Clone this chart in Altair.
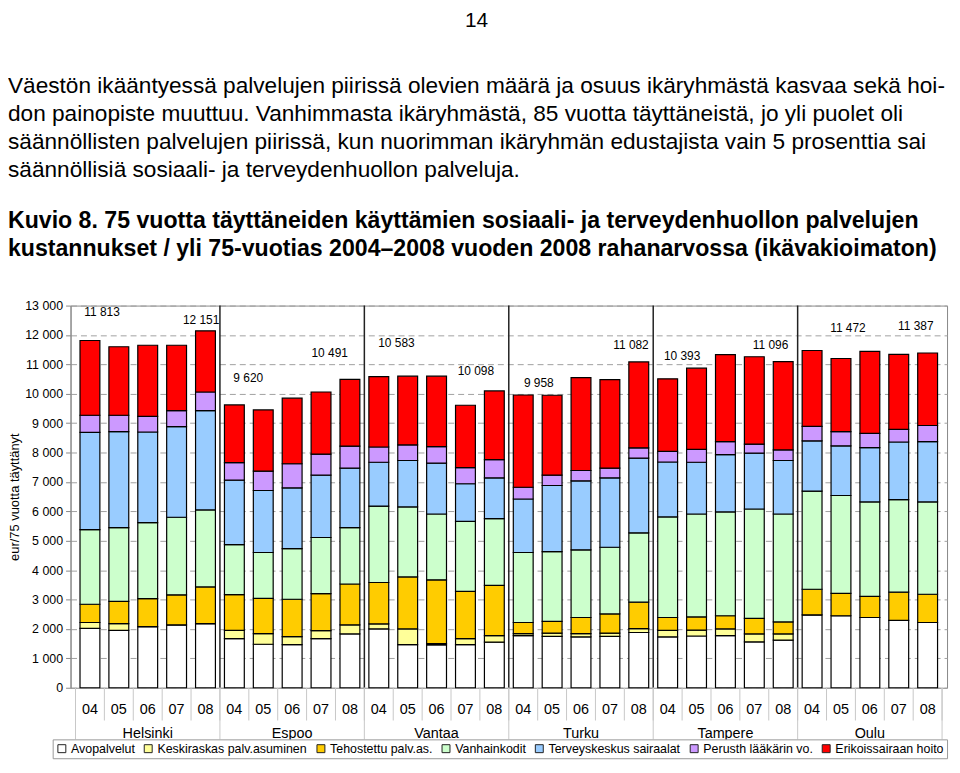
import altair as alt
import pandas as pd

# ---------------- data ----------------
cities = ["Helsinki", "Espoo", "Vantaa", "Turku", "Tampere", "Oulu"]
years = ["04", "05", "06", "07", "08"]
series = ["Avopalvelut", "Keskiraskas palv.asuminen", "Tehostettu palv.as.",
          "Vanhainkodit", "Terveyskeskus sairaalat", "Perusth lääkärin vo.",
          "Erikoissairaan hoito"]
colors = ["#FFFFFF", "#FFFF99", "#FFCC00", "#CCFFCC", "#99CCFF", "#CC99FF", "#FF0000"]

avopalvelut = [2020, 1950, 2080, 2140, 2180, 1670, 1480, 1470, 1670, 1830,
               2000, 1470, 1460, 1470, 1550, 1770, 1750, 1730, 1750, 1880,
               1730, 1760, 1770, 1560, 1620, 2480, 2450, 2390, 2290, 2220]
keskiraskas = [200, 230, 0, 0, 0, 280, 360, 270, 270, 310,
               170, 530, 40, 200, 220, 70, 110, 110, 110, 130,
               220, 200, 230, 270, 210, 0, 0, 0, 0, 0]
tehostettu = [620, 760, 950, 1020, 1250, 1220, 1200, 1270, 1260, 1390,
              1410, 1770, 2170, 1610, 1710, 380, 400, 550, 650, 900,
              440, 450, 450, 530, 410, 870, 760, 720, 960, 960]
vanhainkodit = [2540, 2510, 2590, 2640, 2620, 1700, 1560, 1720, 1910, 1920,
                2600, 2380, 2240, 2380, 2270, 2380, 2370, 2300, 2270, 2360,
                3420, 3500, 3530, 3720, 3670, 3340, 3330, 3210, 3150, 3140]
terveyskeskus = [3310, 3260, 3080, 3080, 3380, 2190, 2110, 2070, 2120, 2020,
                 1490, 1580, 1730, 1280, 1390, 1820, 2250, 2350, 2360, 2540,
                 1870, 1760, 1950, 1900, 1820, 1710, 1690, 1850, 1960, 2050]
perusth = [580, 560, 530, 550, 630, 600, 660, 820, 720, 750,
           520, 530, 560, 550, 620, 400, 350, 350, 330, 350,
           360, 440, 440, 310, 360, 490, 480, 480, 430, 550]
erikoissairaan = [2543, 2330, 2420, 2220, 2081, 1960, 2080, 2230, 2110, 2271,
                  2393, 2340, 2400, 2120, 2338, 3138, 2720, 3160, 3010, 2922,
                  2470, 2760, 2960, 2970, 3006, 2582, 2490, 2790, 2550, 2467]

# data labels (total per 75+ resident) and where they sit in the picture
label_value = [11813, 12151, 9620, 10491, 10583, 10098, 9958, 11082, 10393, 11096, 11472, 11387]
label_at_bar = [0.42, 3.85, 5.48, 8.30, 10.61, 13.36, 15.54, 18.73, 20.50, 23.56, 26.24, 28.59]
label_at_level = [12790, 12520, 10520, 11400, 11710, 10760, 10350, 11670, 11300, 11670, 12220, 12320]

y_ticks = [0, 1000, 2000, 3000, 4000, 5000, 6000, 7000, 8000, 9000, 10000, 11000, 12000, 13000]

page_number = "14"
paragraph = [
    "Väestön ikääntyessä palvelujen piirissä olevien määrä ja osuus ikäryhmästä kasvaa sekä hoi-",
    "don painopiste muuttuu. Vanhimmasta ikäryhmästä, 85 vuotta täyttäneistä, jo yli puolet oli",
    "säännöllisten palvelujen piirissä, kun nuorimman ikäryhmän edustajista vain 5 prosenttia sai",
    "säännöllisiä sosiaali- ja terveydenhuollon palveluja.",
]
figure_title = [
    "Kuvio 8. 75 vuotta täyttäneiden käyttämien sosiaali- ja terveydenhuollon palvelujen",
    "kustannukset / yli 75-vuotias 2004–2008 vuoden 2008 rahanarvossa (ikävakioimaton)",
]
y_title = "eur/75 vuotta täyttänyt"

# ---------------- tables ----------------
values = [avopalvelut, keskiraskas, tehostettu, vanhainkodit, terveyskeskus, perusth, erikoissairaan]
rows = []
bars_meta = []
i = 0
for c in cities:
    for yv in years:
        bars_meta.append({"idx": i, "year": yv, "city": c})
        for k, s in enumerate(series):
            rows.append({"idx": i, "series": s, "k": k, "value": values[k][i]})
        i += 1
df = pd.DataFrame(rows)
meta = pd.DataFrame(bars_meta)
nb = len(meta)
ny = len(years)

lab = pd.DataFrame({"idx": label_at_bar, "value": label_at_level,
                    "t": [f"{v:,}".replace(",", " ") for v in label_value]})
city_df = pd.DataFrame({"idx": [ny * j + (ny - 1) / 2 for j in range(len(cities))], "city": cities})
year_div = pd.DataFrame({"idx": [j - 0.5 for j in range(nb + 1)]})
city_div = pd.DataFrame({"idx": [ny * j - 0.5 for j in range(len(cities) + 1)]})
sep_df = pd.DataFrame({"idx": [ny * j - 0.5 for j in range(1, len(cities))]})

W, H = 883, 385
xscale = alt.Scale(domain=[-0.5, nb - 0.5], nice=False, zero=False)
X = alt.X("idx:Q", scale=xscale, axis=None)

yscale = alt.Scale(domain=[0, 13000], nice=False)
yaxis = alt.Axis(values=y_ticks, title=y_title, labelOverlap=False,
                 labelExpr="replace(format(datum.value, ','), ',', ' ')",
                 grid=True, gridDash=[6, 4], gridColor="#a0a0a0", gridWidth=1,
                 domainColor="#888888", tickColor="#888888", tickSize=5,
                 labelFontSize=12.5, labelColor="#000000", labelPadding=3,
                 titleFontSize=13, titleFontWeight="normal", titleColor="#000000",
                 titlePadding=3)

bars = alt.Chart(df).mark_bar(width=20, stroke="#000000", strokeWidth=1.2, orient="vertical").encode(
    x=X,
    y=alt.Y("value:Q", stack="zero", scale=yscale, axis=yaxis),
    color=alt.Color("series:N", scale=alt.Scale(domain=series, range=colors),
                    legend=alt.Legend(title=None, orient="none", legendX=-18, legendY=437,
                                      direction="horizontal", columns=7,
                                      symbolType="square", symbolSize=64,
                                      symbolStrokeColor="#222222", symbolStrokeWidth=1,
                                      labelFontSize=12.5, labelColor="#000000", labelLimit=0,
                                      labelOffset=3, columnPadding=7,
                                      strokeColor="#999999", fillColor="#ffffff", padding=3)),
    order=alt.Order("k:Q", sort="ascending"),
)

seps = alt.Chart(sep_df).mark_rule(color="#222222", strokeWidth=1.5).encode(
    x=X, y=alt.value(0), y2=alt.value(H))

ydivs = alt.Chart(year_div).mark_rule(color="#c8c8c8", strokeWidth=1).encode(
    x=X, y=alt.value(H), y2=alt.value(H + 33))
cdivs = alt.Chart(city_div).mark_rule(color="#c8c8c8", strokeWidth=1).encode(
    x=X, y=alt.value(H), y2=alt.value(H + 52))

year_text = alt.Chart(meta).mark_text(fontSize=14.5, baseline="middle", color="#000000").encode(
    x=X, y=alt.value(H + 22), text="year:N")
city_text = alt.Chart(city_df).mark_text(fontSize=14.5, baseline="middle", color="#000000").encode(
    x=X, y=alt.value(H + 47), text="city:N")

tot_text = alt.Chart(lab).mark_text(fontSize=12, baseline="middle", color="#000000").encode(
    x=X, y=alt.Y("value:Q", scale=yscale, axis=yaxis), text="t:N")

page_layers = []
page_layers.append(alt.Chart(pd.DataFrame({"t": [page_number]})).mark_text(
    fontSize=21, align="center", baseline="alphabetic", color="#000000").encode(
    x=alt.value(409), y=alt.value(-281), text="t:N"))
for j, line in enumerate(paragraph):
    page_layers.append(alt.Chart(pd.DataFrame({"t": [line]})).mark_text(
        fontSize=22.8, align="left", baseline="alphabetic", color="#000000").encode(
        x=alt.value(-63), y=alt.value(-214 + 28.3 * j), text="t:N"))
for j, line in enumerate(figure_title):
    page_layers.append(alt.Chart(pd.DataFrame({"t": [line]})).mark_text(
        fontSize=23.3, fontWeight="bold", align="left", baseline="alphabetic", color="#000000").encode(
        x=alt.value(-63), y=alt.value(-78 + 28 * j), text="t:N"))

chart = alt.layer(bars, seps, ydivs, cdivs, year_text, city_text, tot_text, *page_layers).properties(
    width=W, height=H,
    autosize=alt.AutoSizeParams(type="none"),
    padding={"left": 63, "top": 297, "right": 5, "bottom": 70},
).configure(font="Liberation Sans").configure_view(stroke="#888888", fill="#ffffff")

chart.save("out.html", embed_options={"renderer": "svg", "actions": False})
